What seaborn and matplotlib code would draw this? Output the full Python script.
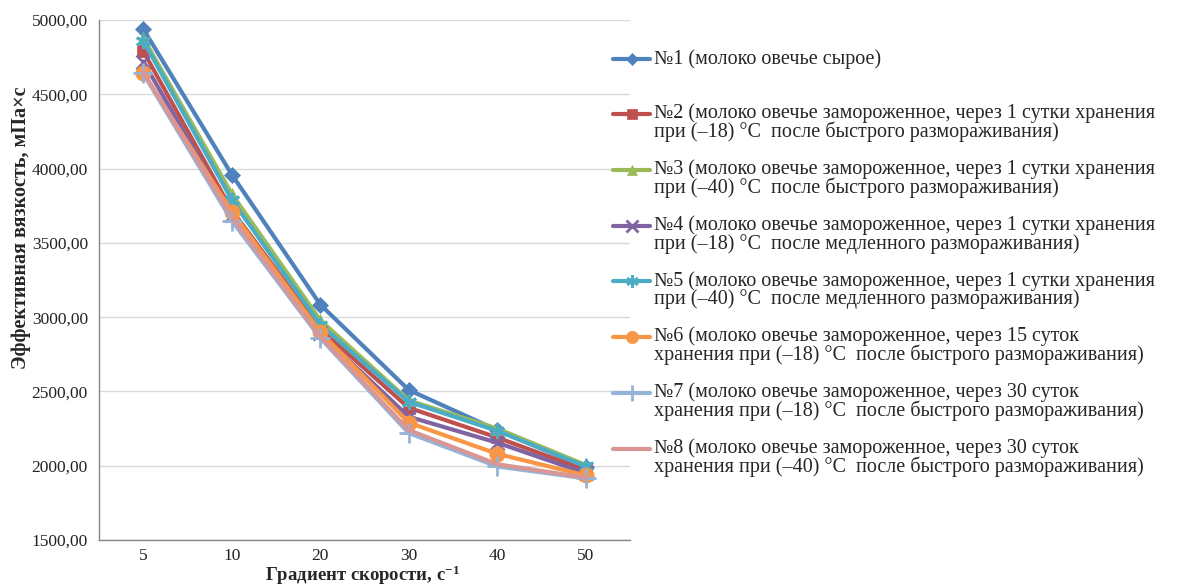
import matplotlib
matplotlib.use("Agg")
import matplotlib.pyplot as plt
import seaborn as sns
import numpy as np
from matplotlib.legend_handler import HandlerLine2D

categories = ["5", "10", "20", "30", "40", "50"]
s1 = [4940, 3960, 3085, 2510, 2240, 1990]
s2 = [4790, 3720, 2920, 2390, 2190, 1970]
s3 = [4880, 3830, 2980, 2440, 2250, 2005]
s4 = [4720, 3690, 2890, 2330, 2155, 1950]
s5 = [4860, 3790, 2950, 2430, 2235, 1995]
s6 = [4640, 3710, 2900, 2290, 2080, 1935]
s7 = [4640, 3650, 2860, 2220, 1995, 1915]
s8 = [4650, 3675, 2870, 2240, 2010, 1920]

labels = [
    ("№1 (молоко овечье сырое)", " "),
    ("№2 (молоко овечье замороженное, через 1 сутки хранения", "при (–18) °С  после быстрого размораживания)"),
    ("№3 (молоко овечье замороженное, через 1 сутки хранения", "при (–40) °С  после быстрого размораживания)"),
    ("№4 (молоко овечье замороженное, через 1 сутки хранения", "при (–18) °С  после медленного размораживания)"),
    ("№5 (молоко овечье замороженное, через 1 сутки хранения", "при (–40) °С  после медленного размораживания)"),
    ("№6 (молоко овечье замороженное, через 15 суток", "хранения при (–18) °С  после быстрого размораживания)"),
    ("№7 (молоко овечье замороженное, через 30 суток", "хранения при (–18) °С  после быстрого размораживания)"),
    ("№8 (молоко овечье замороженное, через 30 суток", "хранения при (–40) °С  после быстрого размораживания)"),
]
series = [s1, s2, s3, s4, s5, s6, s7, s8]
colors = ["#4F81BD", "#C0504D", "#9BBB59", "#8064A2", "#4BACC6", "#F79646", "#95B3D7", "#D99694"]
markers = ["D", "s", "^", "x", (6, 2, 0), "o", "+", None]
msizes = [8, 9, 9, 10, 11, 11, 14, 0]

sns.set_style("white")
plt.rcParams["font.family"] = ["Liberation Serif", "DejaVu Serif"]
plt.rcParams["mathtext.fontset"] = "custom"
plt.rcParams["mathtext.rm"] = "Liberation Serif:bold"
plt.rcParams["mathtext.default"] = "rm"

fig = plt.figure(figsize=(11.83, 5.85), dpi=100)
ax = fig.add_axes([0.0837, 0.0769, 0.4488, 0.8889])

xpos = np.arange(len(categories))
for vals, col, mk, ms, lab in zip(series, colors, markers, msizes, labels):
    sns.lineplot(x=xpos, y=vals, ax=ax, color=col, marker=mk, markersize=ms,
                 markeredgewidth=2 if mk in ("x", "+", (6, 2, 0)) else 0.5,
                 markeredgecolor=col, linewidth=3.0, label=lab[0], legend=False,
                 zorder=3)

ax.set_xlim(-0.5, len(categories) - 0.5)
ax.set_ylim(1500, 5000)
yt = np.arange(1500, 5001, 500)
ax.set_yticks(yt)
ax.set_yticklabels([f"{v:.2f}".replace(".", ",") for v in yt])
ax.set_xticks(xpos)
ax.set_xticklabels(categories)
ax.set_xticks(np.arange(-0.5, len(categories), 1.0), minor=True)
ax.tick_params(axis="x", which="major", length=0, pad=6, labelsize=12.5, labelcolor="#222222")
ax.tick_params(axis="x", which="minor", length=5, width=1, color="#868686", direction="out")
ax.tick_params(axis="y", length=5, width=1, color="#868686", direction="out", labelsize=12.5,
               labelcolor="#222222", pad=3)
ax.yaxis.grid(True, color="#D9D9D9", linewidth=1)
ax.xaxis.grid(False)
ax.set_axisbelow(True)
for sp in ("top", "right"):
    ax.spines[sp].set_visible(False)
for sp in ("left", "bottom"):
    ax.spines[sp].set_color("#868686")
    ax.spines[sp].set_linewidth(1)

ax.set_ylabel("Эффективная вязкость, мПа×с", fontsize=14.5, fontweight="bold")
ax.yaxis.set_label_coords(-0.128, 0.6)
ax.set_xlabel("Градиент скорости, с$^{-1}$", fontsize=13.5, fontweight="bold")
ax.xaxis.set_label_coords(0.497, -0.046)


class TopLineHandler(HandlerLine2D):
    """Place the legend handle beside the first text line of a two-line label."""
    def __init__(self, shift, **kw):
        super().__init__(**kw)
        self.shift = shift

    def create_artists(self, legend, orig_handle, xdescent, ydescent, width, height,
                       fontsize, trans):
        arts = super().create_artists(legend, orig_handle, xdescent, ydescent, width,
                                      height, fontsize, trans)
        for a in arts:
            a.set_ydata(np.asarray(a.get_ydata(), dtype=float) + self.shift)
        return arts


LEG_FS = 14.5
LINESP = 0.9
line_handles = ax.get_lines()
texts = [a + "\n" + b for a, b in labels]
shift = 6.5
hmap = {h: TopLineHandler(shift) for h in line_handles}
leg = fig.legend(line_handles, texts, loc="upper left", bbox_to_anchor=(0.5115, 0.930),
                 frameon=False, fontsize=LEG_FS, handlelength=1.85, handletextpad=0.2,
                 labelspacing=0.86, borderaxespad=0, markerscale=0.8, handler_map=hmap)
for t in leg.get_texts():
    t.set_linespacing(LINESP)

fig.savefig("out.png", dpi=100)
